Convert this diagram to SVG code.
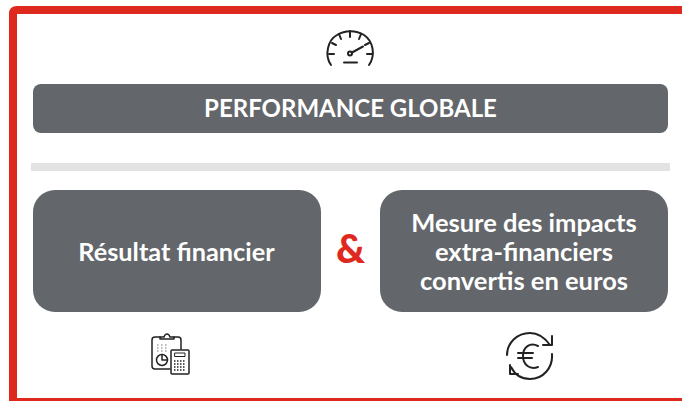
<svg xmlns="http://www.w3.org/2000/svg" width="682" height="401" viewBox="0 0 682 401">
<style>
.box{fill:#63666a}
.t{font-family:"Lato","Liberation Sans",sans-serif;font-weight:700;fill:#fff;text-anchor:middle}
.i{fill:none;stroke:#222;stroke-linecap:round;stroke-linejoin:round}
</style>
<rect width="682" height="401" fill="#fff"/>
<g id="frame"><path d="M13 401V14Q13 10 17 10H682" fill="none" stroke="#df291e" stroke-width="8"/><rect x="17" y="398" width="665" height="3" fill="#df291e"/></g>
<g id="gauge-icon" class="i" stroke-width="2">
<path d="M331 65C324 55 328 40 337 35C345 30 356 30 364 35C373 41 376 55 369 65"/>
<path d="M329 54h5M367 54h5M350 31v6M339 34l2 5M361 34l-2 5M332 43l4 2M369 43l-4 2M344 62.500h13"/>
<circle cx="350" cy="53.500" r="2"/><path d="M352 52.500l11-6"/>
</g>
<g id="performance-globale"><rect class="box" x="33" y="84" width="635" height="49" rx="8"/><text class="t" x="350.500" y="117" font-size="24">PERFORMANCE GLOBALE</text></g>
<rect id="separator" x="31" y="163" width="639" height="8" fill="#e3e3e3"/>
<g id="resultat-financier"><rect class="box" x="33" y="190" width="288" height="122" rx="22"/><text class="t" x="176.500" y="260.500" font-size="25.300">Résultat financier</text></g>
<text id="ampersand" x="350.500" y="263" font-family="Lato,'Liberation Sans',sans-serif" font-weight="900" font-size="40" fill="#df291e" text-anchor="middle">&amp;</text>
<g id="mesure-impacts"><rect class="box" x="380" y="190" width="288" height="122" rx="22"/>
<text class="t" font-size="25.500"><tspan x="524" y="231.500">Mesure des impacts</tspan><tspan x="524" y="260.500">extra-financiers</tspan><tspan x="524" y="290">convertis en euros</tspan></text></g>
<g id="calculator-icon" class="i" stroke-width="1.500">
<path d="M170 369H155Q152 369 152 366V340Q152 337 155 337H160M174 337H178Q181 337 181 340V349"/>
<path d="M160 339V337H164Q165 334 167 334Q169 334 170 337H174V339Z"/>
<rect x="171" y="350" width="18" height="24" rx="1"/><rect x="175" y="353" width="10" height="3.500" stroke-width="1"/>
<path d="M174 361h12M174 364h12M174 367h12M174 370h12" stroke-dasharray="1.500 1.500" stroke-linecap="butt"/>
<circle cx="162" cy="360" r="5.500"/><path d="M162 354.500V360H167.500"/>
<path d="M157 345h11M157 348h11M157 351h11" stroke="#777" stroke-width="1.200" stroke-dasharray="1.500 2.500" stroke-linecap="butt"/>
</g>
<g id="euro-icon" class="i" stroke-width="2">
<path d="M507 355C507 343 517 333 530 333C538 333 545 338 550 345M552 354C553 368 543 379 530 379C522 379 515 375 511 367"/>
<path d="M552 336V345H543M510 365V374H518"/>
<path d="M538 346C530 342 523 347 523 356C523 365 530 370 538 367M518 353H533M518 358H532"/>
</g>
</svg>
